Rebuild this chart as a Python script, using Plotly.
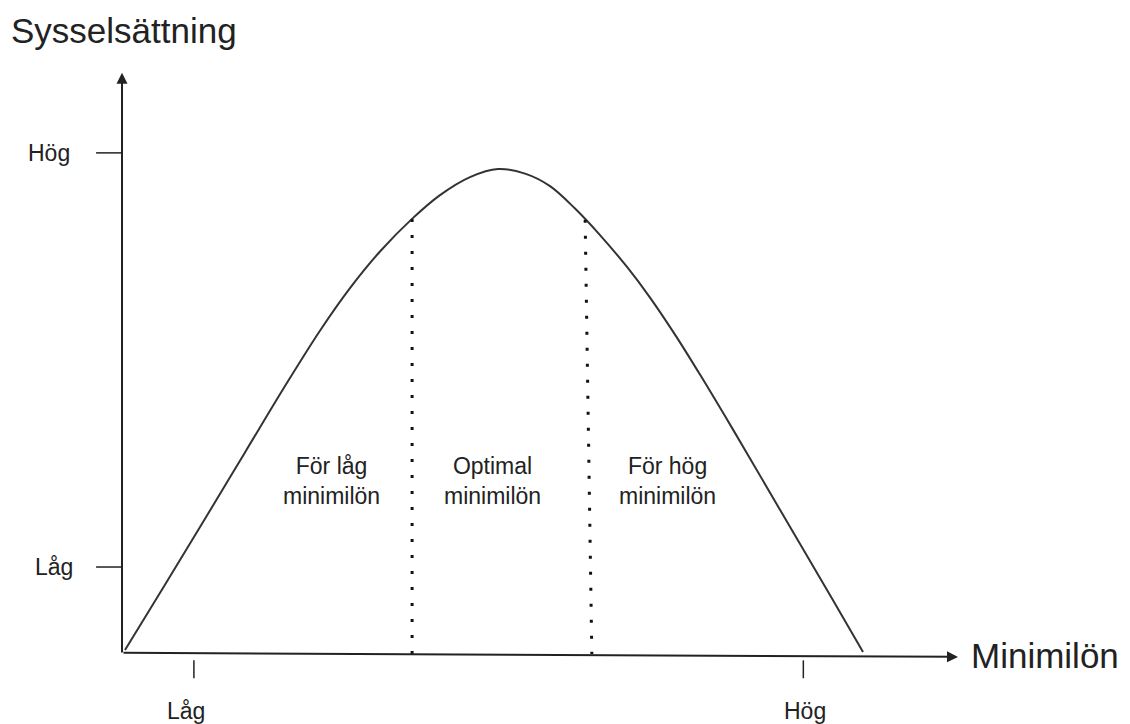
import plotly.graph_objects as go

# ---- data (abstract units: x = minimilön 0..100, y = sysselsättning 0..100) ----
curve_x = [0.36, 5.14, 9.93, 14.71, 19.50, 23.68, 27.27, 30.86, 34.69, 38.04, 41.63, 44.98,
           48.21, 51.20, 54.19, 57.18, 60.41, 63.16, 66.15, 69.14, 72.13, 75.12, 79.90, 85.05, 88.64]
curve_y = [0.69, 12.01, 23.47, 35.00, 46.53, 56.13, 63.52, 69.88, 75.54, 79.67, 82.80, 84.20,
           83.40, 81.23, 77.33, 72.73, 67.19, 61.88, 55.45, 48.51, 41.30, 33.96, 22.08, 9.32, 0.36]

left_div_x = [34.7, 34.7]
left_div_y = [75.5, 0.0]
right_div_x = [55.4, 56.2]
right_div_y = [75.4, 0.0]

y_tick_vals = [87.0, 15.1]
y_tick_text = ["Hög", "Låg"]
x_tick_vals = [8.6, 81.5]
x_tick_text = ["Låg", "Hög"]

region_x = [25.1, 44.3, 65.2]
region_text = ["För låg<br>minimilön", "Optimal<br>minimilön", "För hög<br>minimilön"]
region_y = 30.0

y_title = "Sysselsättning"
x_title = "Minimilön"

FONT = "Liberation Sans, Arial, sans-serif"
INK = "#222222"
LINE = "#333333"

# page offset of the figure (default body margin) and pixel scale of one unit
OFF = 8
X0, Y0, SX, SY = 122, 654, 8.36, 5.76

fig = go.Figure()

fig.add_trace(go.Scatter(x=curve_x, y=curve_y, mode="lines",
                         line=dict(color=LINE, width=2, shape="spline", smoothing=1.0),
                         hoverinfo="skip", showlegend=False))
for dx, dy in [(left_div_x, left_div_y), (right_div_x, right_div_y)]:
    fig.add_trace(go.Scatter(x=dx, y=dy, mode="lines",
                             line=dict(color="#111111", width=3, dash="3px,13px"),
                             hoverinfo="skip", showlegend=False))

shapes = []
for v in y_tick_vals:
    shapes.append(dict(type="line", xref="x", yref="y", x0=-3.1, x1=0, y0=v, y1=v,
                       line=dict(color=INK, width=1.5)))
for v in x_tick_vals:
    shapes.append(dict(type="line", xref="x", yref="y", x0=v, x1=v, y0=-1.1, y1=-4.2,
                       line=dict(color=INK, width=1.5)))

ann = []
# axes with arrows
ann.append(dict(x=0, y=100.9, ax=0, ay=0, xref="x", yref="y", axref="x", ayref="y",
                showarrow=True, arrowhead=2, arrowsize=1.1, arrowwidth=2, arrowcolor=INK, text=""))
ann.append(dict(x=100, y=-0.5, ax=0, ay=0.2, xref="x", yref="y", axref="x", ayref="y",
                showarrow=True, arrowhead=2, arrowsize=1.1, arrowwidth=2, arrowcolor=INK, text=""))

# tick labels
ann.append(dict(x=-8.7, y=y_tick_vals[0], text=y_tick_text[0], showarrow=False,
                xanchor="center", yanchor="middle", font=dict(family=FONT, size=23, color=INK)))
ann.append(dict(x=-8.1, y=y_tick_vals[1], text=y_tick_text[1], showarrow=False,
                xanchor="center", yanchor="middle", font=dict(family=FONT, size=23, color=INK)))
for v, t in zip(x_tick_vals, x_tick_text):
    ann.append(dict(x=v - 1.0 if t == "Låg" else v + 0.2, y=-9.9, text=t, showarrow=False,
                    xanchor="center", yanchor="middle", font=dict(family=FONT, size=23, color=INK)))

# region labels
for rx, rt in zip(region_x, region_text):
    ann.append(dict(x=rx, y=region_y, text=rt, showarrow=False, xanchor="center",
                    yanchor="middle", font=dict(family=FONT, size=23, color=INK)))

# axis titles
ann.append(dict(x=-13.5, y=108.3, text=y_title, showarrow=False, xanchor="left", yanchor="middle",
                font=dict(family=FONT, size=35, color=INK)))
ann.append(dict(x=101.3, y=-0.2, text=x_title, showarrow=False, xanchor="left", yanchor="middle",
                font=dict(family=FONT, size=35, color=INK)))

for a in ann:
    a.setdefault("xref", "x")
    a.setdefault("yref", "y")

W, H = 1130 - OFF, 724 - OFF
fig.update_layout(
    width=W, height=H,
    margin=dict(l=0, r=0, t=0, b=0),
    paper_bgcolor="white", plot_bgcolor="white",
    xaxis=dict(range=[(OFF - X0) / SX, (1130 - X0) / SX], visible=False, fixedrange=True),
    yaxis=dict(range=[(Y0 - 724) / SY, (Y0 - OFF) / SY], visible=False, fixedrange=True),
    shapes=shapes, annotations=ann, showlegend=False,
)

fig.write_html("out.html")
